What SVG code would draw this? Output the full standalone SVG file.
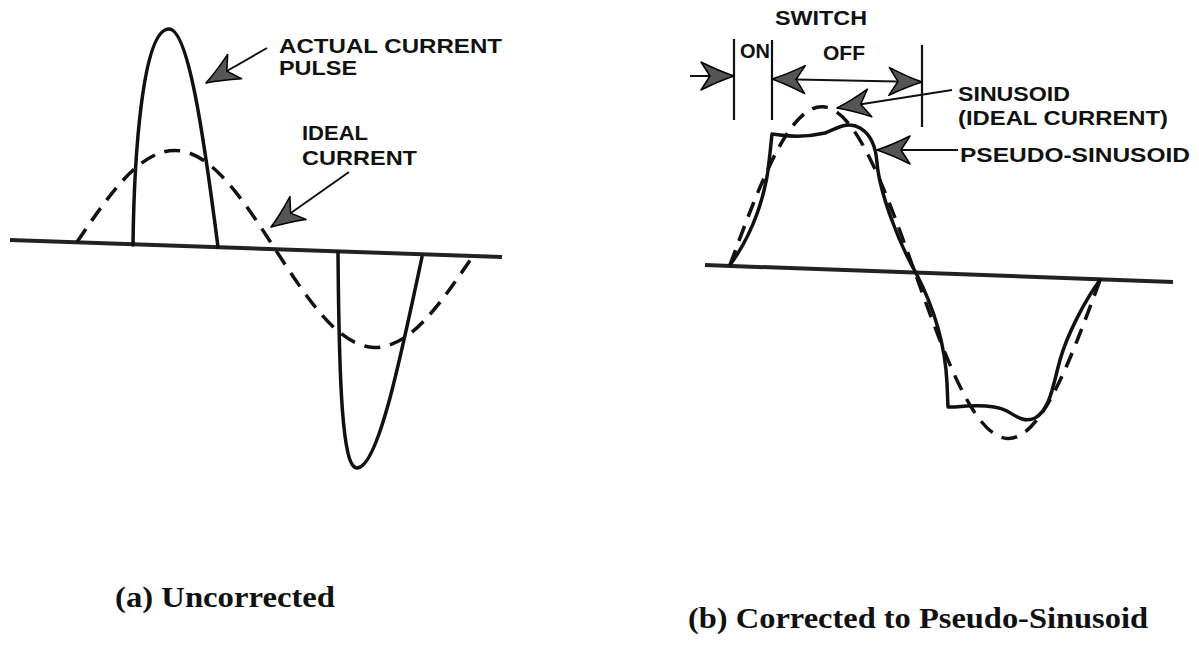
<svg xmlns="http://www.w3.org/2000/svg" width="1199" height="656" viewBox="0 0 1199 656">
<style>
.lab{font-family:"Liberation Sans",Arial,Helvetica,sans-serif;font-weight:bold;font-size:21px;fill:#111}
.cap{font-family:"Liberation Serif","Times New Roman",serif;font-weight:bold;font-size:30px;fill:#111}
.solid{fill:none;stroke:#111;stroke-width:3.5;stroke-linecap:round;stroke-linejoin:round}
.dash{fill:none;stroke:#111;stroke-width:3.5;stroke-dasharray:16 10}
.axis{fill:none;stroke:#222;stroke-width:4}
.lead{fill:none;stroke:#111;stroke-width:2}
.bar{fill:none;stroke:#111;stroke-width:2.2}
</style>
<defs>
<marker id="ah" viewBox="-36 -16 38 32" refX="0" refY="0" markerWidth="38" markerHeight="32" markerUnits="userSpaceOnUse" orient="auto-start-reverse">
<path d="M0,0 Q-15,-5 -33,-14 L-24,0 L-33,14 Q-15,5 0,0 Z" fill="#555" stroke="#000" stroke-width="1.5" stroke-linejoin="round"/>
</marker>
</defs>

<g id="panel-a">
<g id="axis-a"><line class="axis" x1="10" y1="240" x2="502" y2="257"/></g>
<g id="ideal-a"><path class="dash" transform="matrix(1,0.035,0,1,77,242)" d="M0,0 C32.3,-48.7 63.2,-95 99,-95 C134.8,-95 165.7,-48.7 198,0 C230.3,48.7 261.2,95 297,95 C332.8,95 363.7,48.7 396,0"/></g>
<g id="pulse-a"><path class="solid" d="M133,245 C134,160 142,29 169,29 C188,29 203,130 218,247"/>
<path class="solid" d="M338,252 C339,380 342,468 357,468 C378,468 400,360 422,257"/></g>
<g id="label-actual"><text class="lab" x="279" y="53" font-size="19.5" textLength="223" lengthAdjust="spacingAndGlyphs">ACTUAL CURRENT</text>
<text class="lab" x="279" y="75" font-size="19.5" textLength="78" lengthAdjust="spacingAndGlyphs">PULSE</text></g>
<g id="label-ideal"><text class="lab" x="302" y="140" font-size="22" textLength="66" lengthAdjust="spacingAndGlyphs">IDEAL</text>
<text class="lab" x="302" y="165" font-size="22" textLength="115" lengthAdjust="spacingAndGlyphs">CURRENT</text></g>
<text class="cap" x="115" y="607" textLength="220" lengthAdjust="spacingAndGlyphs">(a) Uncorrected</text>
</g>

<g id="panel-b">
<g id="axis-b"><line class="axis" x1="705" y1="265" x2="1173" y2="282"/></g>
<g id="ideal-b"><path class="dash" transform="matrix(1,0.041,0,1,730,265)" d="M0,0 C30.2,-83 59,-162 92.5,-162 C126,-162 154.8,-83 185,0 C215.2,83 244,162 277.5,162 C311,162 339.8,83 370,0"/></g>
<g id="pseudo-b"><path class="solid" d="M730,265 C752,235 767,195 770,153 L772,134 L780,135 C795,137 812,136 825,133 C838,128 848,121 860,128 C872,135 876,148 877,163 C880,195 900,245 916,273 C930,300 945,340 947,383 L948,407 L955,407 C975,405 995,405 1007,411 C1017,417 1025,423 1035,418 C1050,410 1053,385 1060,360 C1067,335 1085,300 1100,280"/></g>
<g id="switch">
<line class="bar" x1="734" y1="39" x2="734" y2="120"/>
<line class="bar" x1="772" y1="40" x2="772" y2="120"/>
<line class="bar" x1="922" y1="45" x2="922" y2="127"/>
<text class="lab" x="775" y="25" font-size="23" textLength="92" lengthAdjust="spacingAndGlyphs">SWITCH</text>
<text class="lab" x="740" y="58" font-size="22" textLength="30" lengthAdjust="spacingAndGlyphs">ON</text>
<text class="lab" x="823" y="60" font-size="22" textLength="42" lengthAdjust="spacingAndGlyphs">OFF</text>
</g>
<g id="label-sinusoid">
<text class="lab" x="958" y="101" textLength="112" lengthAdjust="spacingAndGlyphs">SINUSOID</text>
<text class="lab" x="958" y="125" textLength="210" lengthAdjust="spacingAndGlyphs">(IDEAL CURRENT)</text>
</g>
<g id="label-pseudo"><text class="lab" x="960" y="162" font-size="22" textLength="230" lengthAdjust="spacingAndGlyphs">PSEUDO-SINUSOID</text></g>
<text class="cap" x="688" y="628" textLength="460" lengthAdjust="spacingAndGlyphs">(b) Corrected to Pseudo-Sinusoid</text>
</g>

<g id="connectors">
<line class="lead" x1="267" y1="48" x2="206" y2="83" marker-end="url(#ah)"/>
<line class="lead" x1="349" y1="172" x2="271" y2="227" marker-end="url(#ah)"/>
<line class="lead" x1="690" y1="76" x2="734" y2="76" marker-end="url(#ah)"/>
<line class="lead" x1="772" y1="79" x2="922" y2="82" marker-start="url(#ah)" marker-end="url(#ah)"/>
<line class="lead" x1="952" y1="90" x2="837" y2="108" marker-end="url(#ah)"/>
<line class="lead" x1="958" y1="150" x2="877" y2="150" marker-end="url(#ah)"/>
</g>
</svg>
